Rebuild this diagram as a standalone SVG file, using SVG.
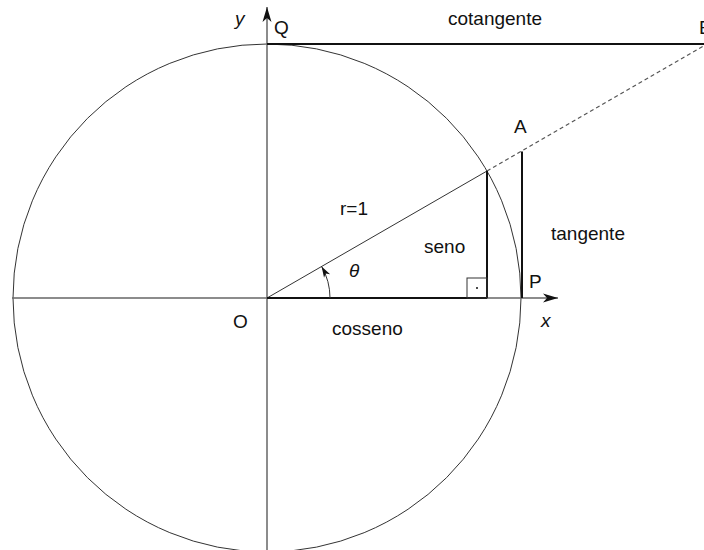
<svg xmlns="http://www.w3.org/2000/svg" width="704" height="550" viewBox="0 0 704 550">
<style>
text{font-family:"Liberation Sans",Arial,sans-serif;font-size:19px;fill:#111}
.it{font-style:italic}
.axis{stroke:#666;stroke-width:1.5;fill:none}
.thin{stroke:#333;stroke-width:1;fill:none}
.thick{stroke:#111;stroke-width:2;fill:none}
.dash{stroke:#555;stroke-width:1.2;stroke-dasharray:4 3;fill:none}
</style>
<defs>
<marker id="ah" viewBox="-16 -5 17 10" refX="0" refY="0" markerWidth="17" markerHeight="10" markerUnits="userSpaceOnUse" orient="auto">
<path d="M0,0 L-15,-4.5 L-11,0 L-15,4.5 Z" fill="#111"/>
</marker>
<marker id="ah2" viewBox="-12 -4 13 8" refX="0" refY="0" markerWidth="13" markerHeight="8" markerUnits="userSpaceOnUse" orient="auto">
<path d="M0,0 L-11,-3.5 L-8,0 L-11,3.5 Z" fill="#111"/>
</marker>
</defs>
<rect width="704" height="550" fill="#fff"/>
<g id="circle"><circle cx="267" cy="298" r="254" class="thin"/></g>
<g id="axes">
<line x1="12" y1="298" x2="558" y2="298" class="axis" marker-end="url(#ah)"/>
<line x1="267" y1="550" x2="267" y2="7" class="axis" marker-end="url(#ah)"/>
</g>
<g id="connectors">
<line x1="267" y1="298" x2="487" y2="171" class="thin"/>
<line x1="487" y1="171" x2="704" y2="45.7" class="dash"/>
<line x1="267" y1="298" x2="487" y2="298" class="thick"/>
<line x1="487" y1="171" x2="487" y2="298" class="thick"/>
<line x1="522" y1="151.5" x2="522" y2="298" class="thick"/>
<line x1="267" y1="44" x2="704" y2="44" class="thick"/>
<rect x="467" y="278" width="20" height="20" class="thin"/>
<circle cx="477" cy="288" r="1" fill="#111"/>
<path d="M330,298 A63,63 0 0 0 321.6,266.5" class="thin" marker-end="url(#ah2)"/>
</g>
<g id="labels">
<text x="235" y="25" class="it">y</text>
<text x="274" y="34">Q</text>
<text x="448" y="25">cotangente</text>
<text x="699" y="33.5">B</text>
<text x="514" y="133">A</text>
<text x="340" y="215">r=1</text>
<text x="424" y="252.5">seno</text>
<text x="551" y="240">tangente</text>
<text x="349" y="277" class="it">θ</text>
<text x="529" y="288">P</text>
<text x="233" y="328">O</text>
<text x="332" y="335">cosseno</text>
<text x="541" y="327" class="it">x</text>
</g>
</svg>
